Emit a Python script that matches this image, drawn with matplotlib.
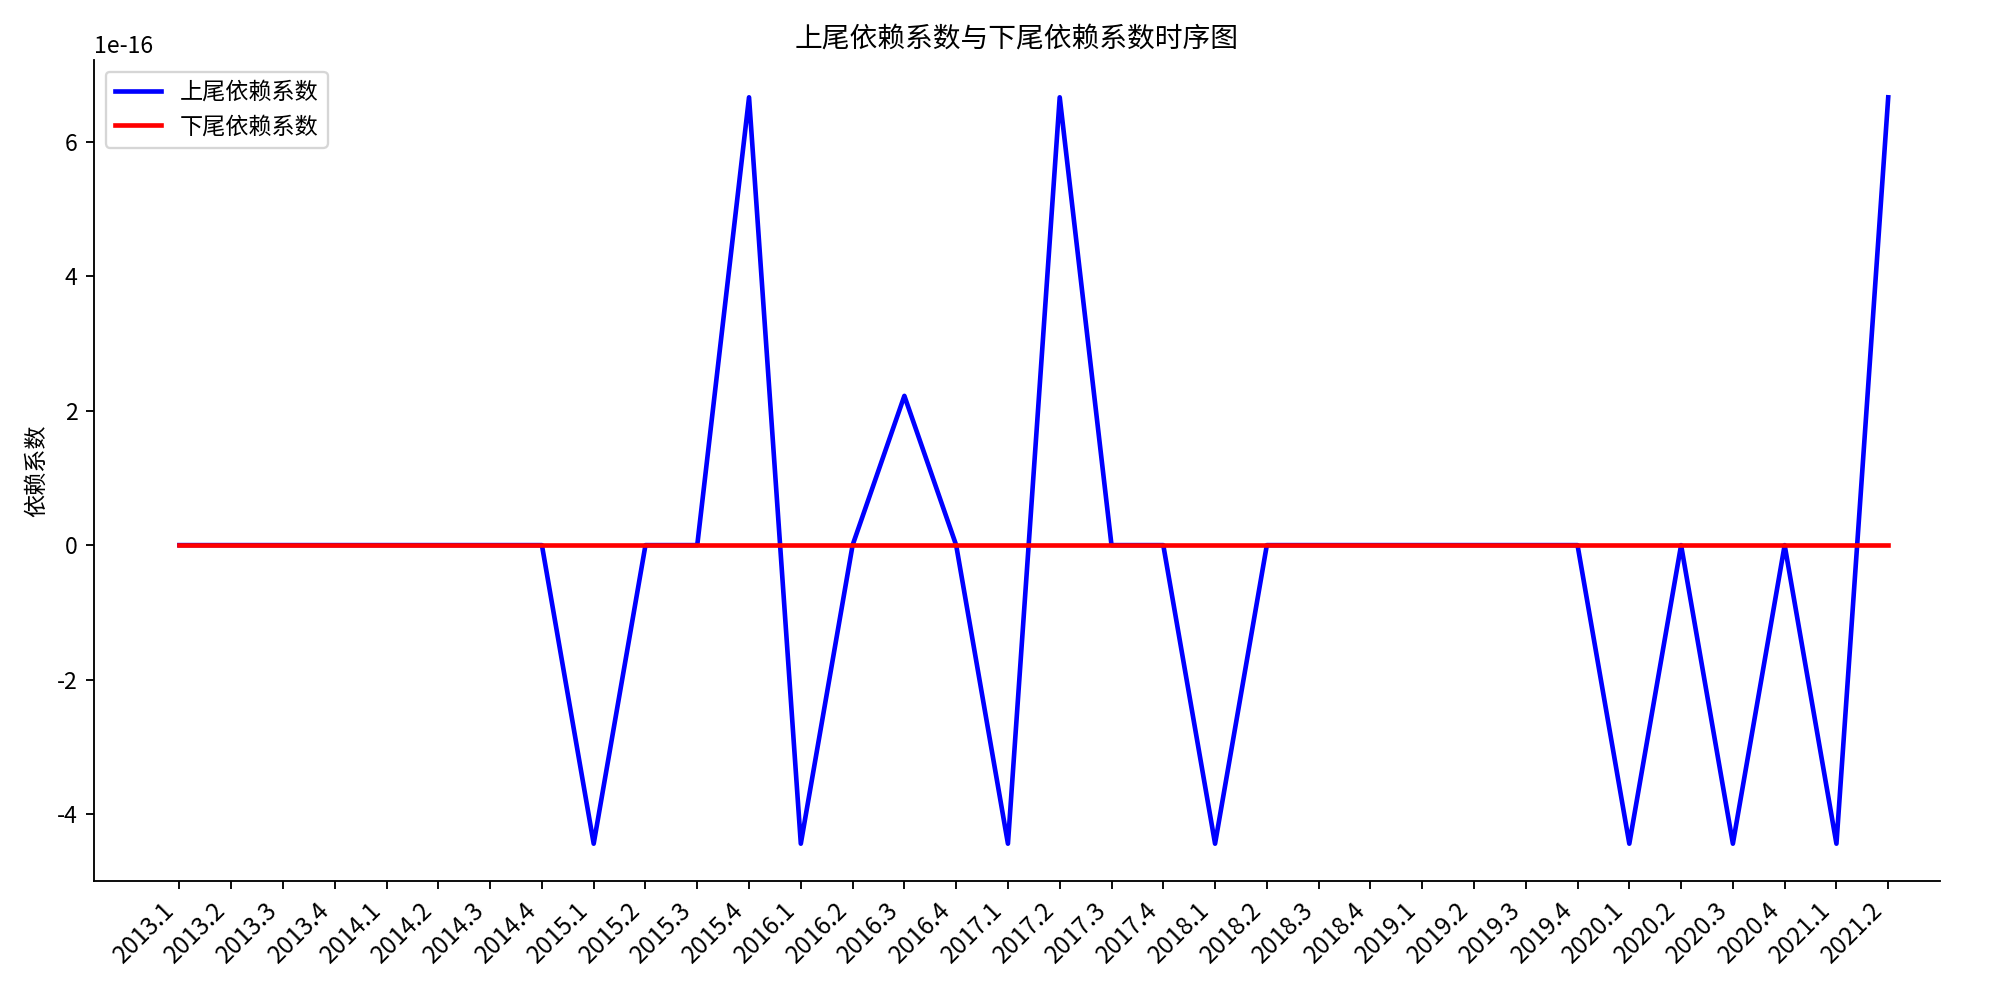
import matplotlib
matplotlib.use('Agg')
import matplotlib.pyplot as plt

plt.rcParams['font.family'] = ['Noto Sans CJK SC', 'DejaVu Sans']
plt.rcParams['axes.unicode_minus'] = False

# quarters
quarters = ['2013.1', '2013.2', '2013.3', '2013.4',
            '2014.1', '2014.2', '2014.3', '2014.4',
            '2015.1', '2015.2', '2015.3', '2015.4',
            '2016.1', '2016.2', '2016.3', '2016.4',
            '2017.1', '2017.2', '2017.3', '2017.4',
            '2018.1', '2018.2', '2018.3', '2018.4',
            '2019.1', '2019.2', '2019.3', '2019.4',
            '2020.1', '2020.2', '2020.3', '2020.4',
            '2021.1', '2021.2']

hi = 6.661338147750939e-16
lo = -4.440892098500626e-16
mid = 2.220446049250313e-16

upper = [0, 0, 0, 0,
         0, 0, 0, 0,
         lo, 0, 0, hi,
         lo, 0, mid, 0,
         lo, hi, 0, 0,
         lo, 0, 0, 0,
         0, 0, 0, 0,
         lo, 0, lo, 0,
         lo, hi]
lower = [0] * len(quarters)

x = list(range(len(quarters)))

fig, ax = plt.subplots(figsize=(12, 6), dpi=2000/12)
ax.plot(x, upper, color='b', linewidth=2, label='上尾依赖系数')
ax.plot(x, lower, color='r', linewidth=2, label='下尾依赖系数')

ax.set_xticks(x)
ax.set_xticklabels(quarters, rotation=45, ha='right', fontsize=10.5)
ax.set_xlim(-1.65, 34.0)
ax.set_ylabel('依赖系数')
ax.set_title('上尾依赖系数与下尾依赖系数时序图')
ax.legend(loc='upper left')
ax.spines['top'].set_visible(False)
ax.spines['right'].set_visible(False)

fig.subplots_adjust(left=0.047, right=0.97, top=0.94, bottom=0.119)
plt.savefig('out.png')
